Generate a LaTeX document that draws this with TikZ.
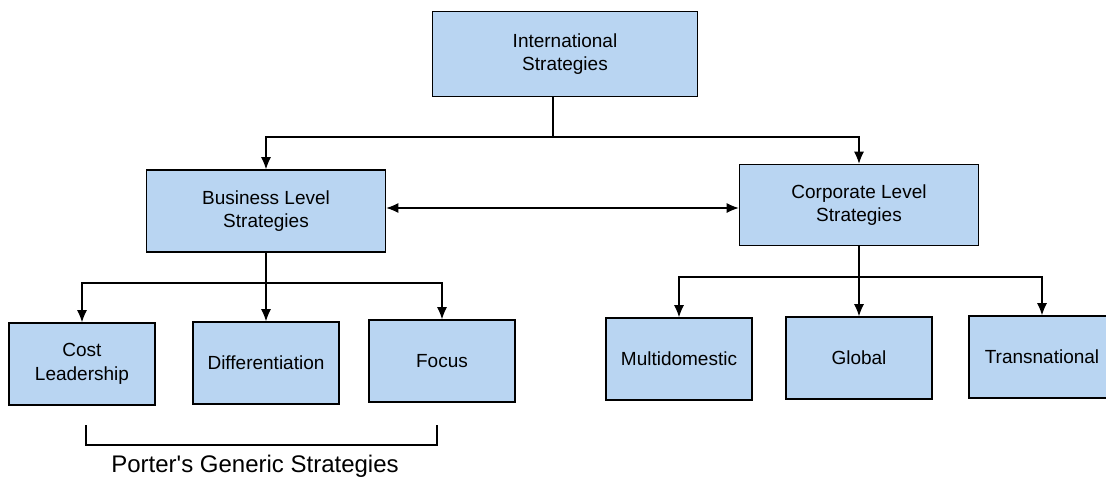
\documentclass[tikz,border=0pt]{standalone}
\usepackage{fontspec}
\setmainfont{Liberation Sans}
% same face without TeX ligature mapping, so ' stays a straight quote
\newfontfamily\rawsans{Liberation Sans}
\usetikzlibrary{arrows.meta}
\definecolor{boxblue}{HTML}{B9D5F2}
\begin{document}
\begin{tikzpicture}[x=1pt,y=-1pt,
  box/.style={draw=black,line width=1.6pt,fill=boxblue,minimum width=146pt,minimum height=82pt,
    inner sep=2pt,align=center,font=\fontsize{19}{23.5}\selectfont},
  bigbox/.style={box,minimum width=239pt},
  link/.style={line width=1.1pt,-{Latex[length=12pt,width=10pt]}},
  plain/.style={line width=1.1pt}]
\useasboundingbox (0,0) rectangle (1106,480);
\clip (0,0) rectangle (1106,480);
% boxes
\node[box,minimum width=265pt,minimum height=85pt] (intl) at (565,54) {International\\Strategies};
\node[bigbox] (bus) at (266,211) {Business Level\\Strategies};
\node[bigbox,minimum height=81pt] (corp) at (859,205) {Corporate Level\\Strategies};
\node[box] (cost) at (82,364) {Cost\\Leadership};
\node[box] (diff) at (266,363) {Differentiation};
\node[box] (focus) at (442,361) {Focus};
\node[box] (multi) at (679,359) {Multidomestic};
\node[box] (glob) at (859,358) {Global};
\node[box] (trans) at (1042,357) {Transnational};
% top level split
\coordinate (j1) at (553,137);
\draw[plain] (intl.south -| j1) -- (j1);
\draw[link] (j1) -| (bus.north);
\draw[link] (j1) -| (corp.north);
\draw[line width=1.1pt,{Latex[length=12pt,width=10pt]}-{Latex[length=12pt,width=10pt]}] (bus.east |- 0,208) -- (corp.west |- 0,208);
% business level split
\coordinate (j2) at (266,283);
\draw[plain] (bus.south) -- (j2);
\draw[link] (j2) -| (cost.north);
\draw[link] (j2) -- (diff.north);
\draw[link] (j2) -| (focus.north);
% corporate level split
\coordinate (j3) at (859,277);
\draw[plain] (corp.south) -- (j3);
\draw[link] (j3) -| (multi.north);
\draw[link] (j3) -- (glob.north);
\draw[link] (j3) -| (trans.north);
% bracket under Porter's strategies
\coordinate (b1) at (86,425);
\coordinate (b2) at (437,425);
\draw[plain] (b1) -- ++(0,20) -| (b2);
\node[font=\rawsans\fontsize{24}{28}\selectfont] (porter) at (255,466) {Porter's Generic Strategies};
\end{tikzpicture}
\end{document}
